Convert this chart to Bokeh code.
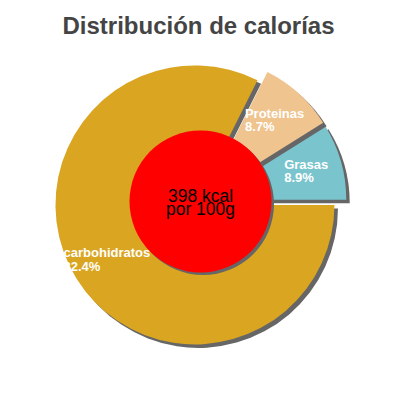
import numpy as np
from bokeh.plotting import figure
from bokeh.models import Range1d
from bokeh.core.properties import value
from bokeh.embed import file_html
from bokeh.resources import INLINE

# ---- data ----
title = "Distribución de calorías"
categories = ["Grasas", "Proteinas", "carbohidratos"]
percents = [8.9, 8.7, 82.4]
pct_labels = ["8.9%", "8.7%", "82.4%"]
colors = ["#7ac4cd", "#efc48f", "#daa520"]
energy_lines = ["398 kcal", "por 100g"]

# ---- layout / style ----
W = H = 384
FONT = value("Liberation Sans")
cx, cy = 200.0, 199.0          # pie centre (data units == pixels)
R = 139.5                      # pie radius
EXPLODE = 6.5
HOLE_R = 71.0
SHADOW = "#666666"
SH = 3.5
LABEL_R = 110.0

p = figure(width=W, height=H, x_range=Range1d(0, 384), y_range=Range1d(16, 400),
           output_backend="svg", toolbar_location=None, min_border=0)
p.axis.visible = False
p.grid.visible = False
p.outline_line_color = None
p.background_fill_color = "white"
p.border_fill_color = "white"

fr = np.array(percents) / np.sum(percents)
ends = np.cumsum(fr) * 2 * np.pi
starts = np.concatenate([[0.0], ends[:-1]])
mids = (starts + ends) / 2

for s, e, m, c in zip(starts, ends, mids, colors):
    ox = cx + EXPLODE * np.cos(m)
    oy = cy + EXPLODE * np.sin(m)
    p.wedge(x=[ox + SH], y=[oy - SH], radius=R, start_angle=[s], end_angle=[e],
            fill_color=SHADOW, line_color=None)
    p.wedge(x=[ox], y=[oy], radius=R, start_angle=[s], end_angle=[e],
            fill_color=c, line_color=None)

# centre disc
p.circle(x=[cx + 2.5], y=[cy - 2.5], radius=HOLE_R, fill_color=SHADOW, line_color=None)
p.circle(x=[cx], y=[cy], radius=HOLE_R, fill_color="#ff0000", line_color=None)

# slice labels
lx = cx + LABEL_R * np.cos(mids)
ly = cy + LABEL_R * np.sin(mids)
p.text(x=list(lx), y=list(ly), text=[f"{c}\n{v}" for c, v in zip(categories, pct_labels)],
       anchor="center", text_align="left", text_line_height=0.9,
       text_font=FONT, text_font_size="13px", text_font_style="bold",
       text_color="white")

# centre text
p.text(x=[cx, cx], y=[400 - 195, 400 - 208], text=energy_lines,
       text_align="center", text_baseline="alphabetic",
       text_font=FONT, text_font_size="17.5px", text_color="black")

# title
p.text(x=[198], y=[400 - 25], text=[title], text_align="center", text_baseline="alphabetic",
       text_font=FONT, text_font_size="24px", text_font_style="bold", text_color="#444444")

open("out.html", "w").write(file_html(p, INLINE))
